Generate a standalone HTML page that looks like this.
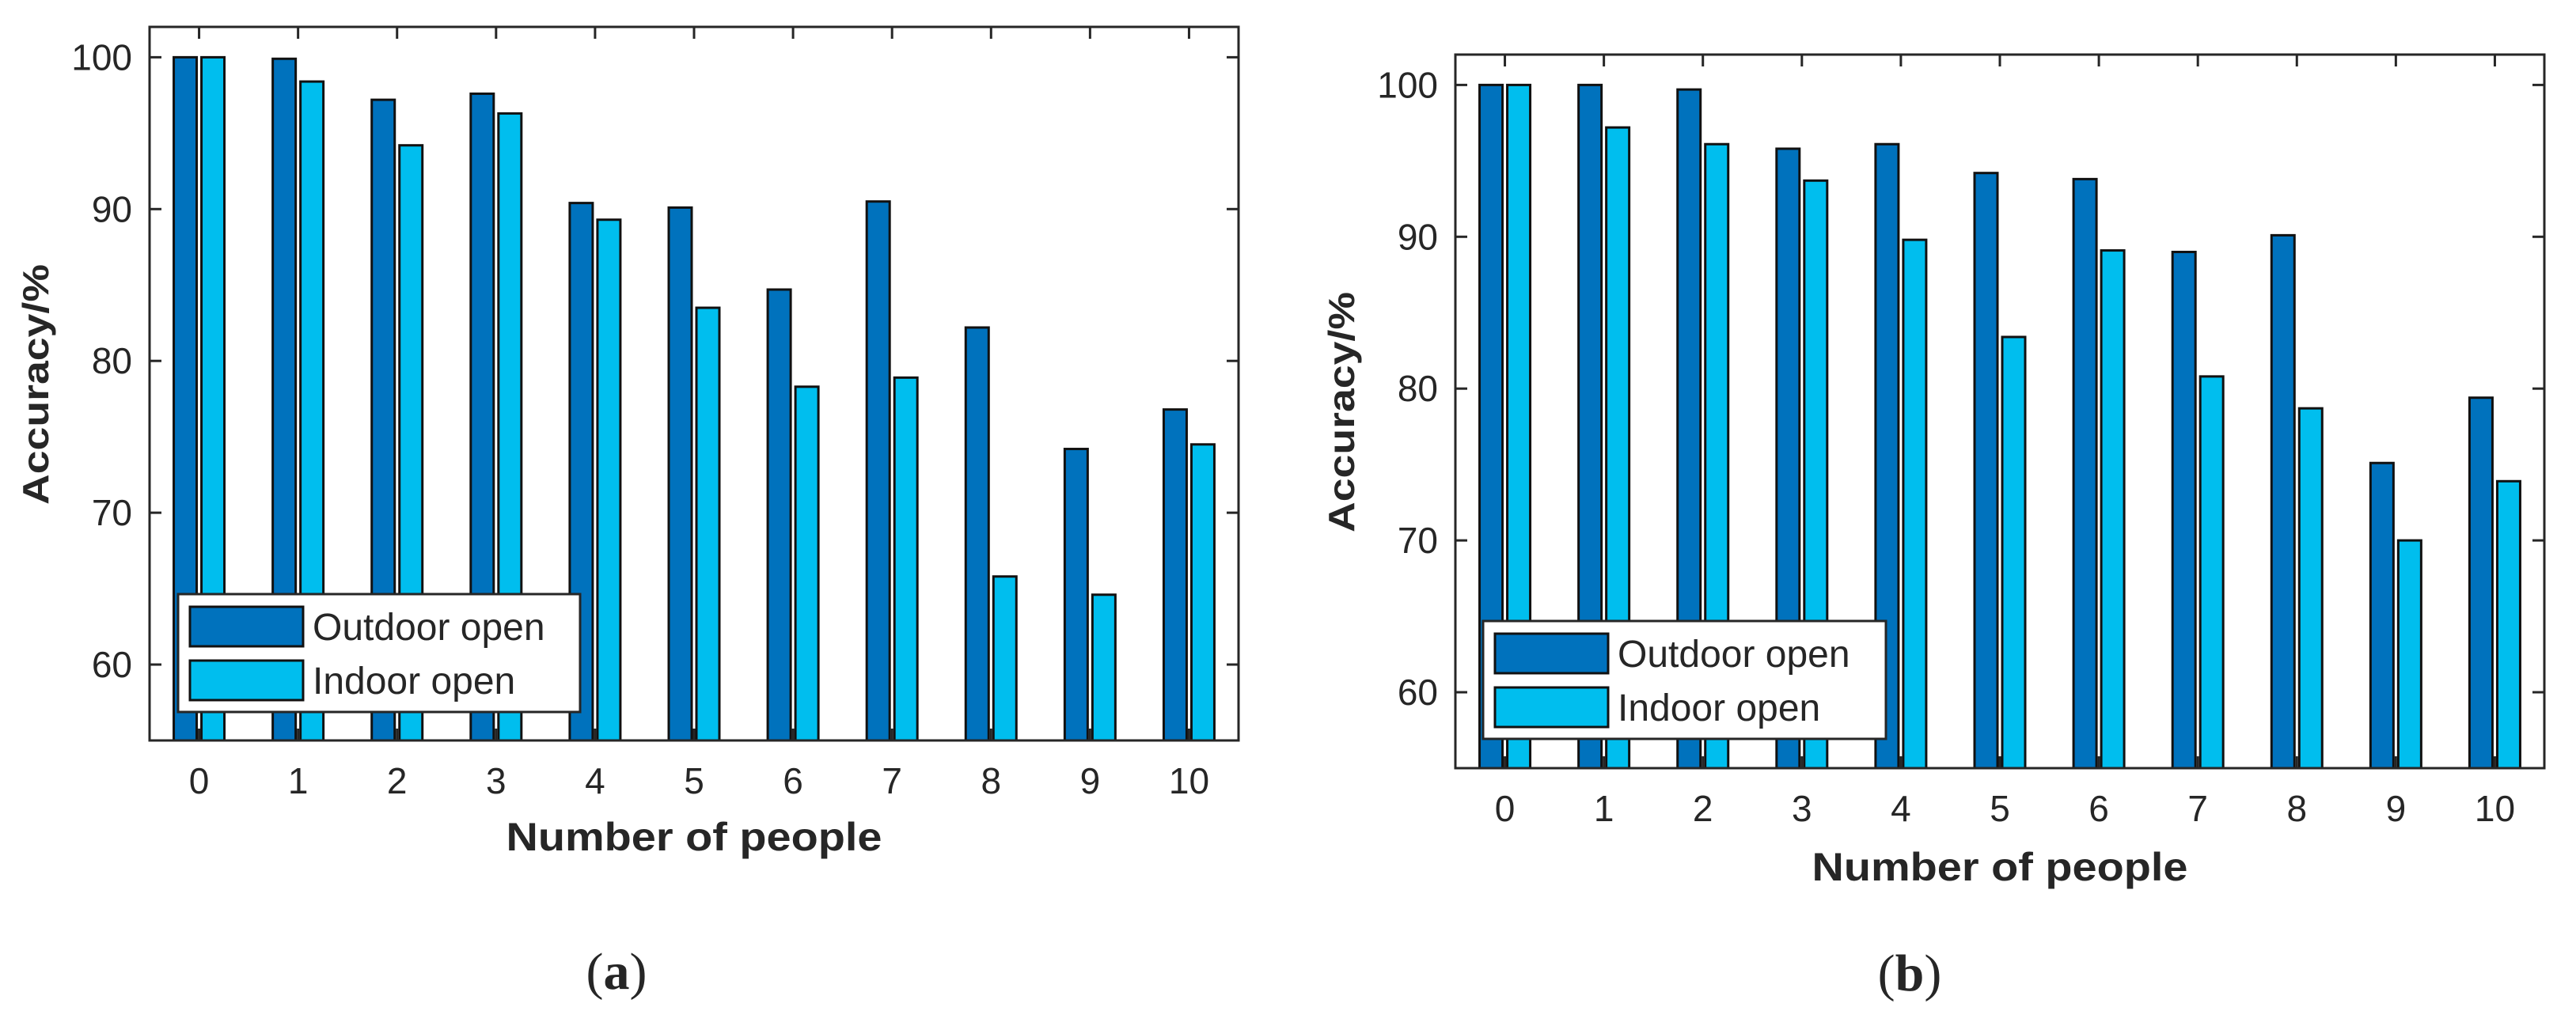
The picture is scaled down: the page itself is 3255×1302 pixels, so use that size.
<!DOCTYPE html>
<html><head><meta charset="utf-8"><style>
html,body{margin:0;padding:0;background:#fff;}
svg{display:block;}
text{fill:#262626;}
</style></head><body>
<svg id="fig" width="3255" height="1302" viewBox="0 0 3255 1302" xmlns="http://www.w3.org/2000/svg"></svg>
<script>
const categories = ['0','1','2','3','4','5','6','7','8','9','10'];
const yTicks = [60,70,80,90,100];
const seriesNames = ['Outdoor open','Indoor open'];
const outdoorA = [100,99.9,97.2,97.6,90.4,90.1,84.7,90.5,82.2,74.2,76.8];
const indoorA  = [100,98.4,94.2,96.3,89.3,83.5,78.3,78.9,65.8,64.6,74.5];
const outdoorB = [100,100,99.7,95.8,96.1,94.2,93.8,89.0,90.1,75.1,79.4];
const indoorB  = [100,97.2,96.1,93.7,89.8,83.4,89.1,80.8,78.7,70.0,73.9];
const yMin = 55, yMax = 102;

const NS='http://www.w3.org/2000/svg';
const svg=document.getElementById('fig');
function mk(tag,attrs,parent){const e=document.createElementNS(NS,tag);for(const k in attrs)e.setAttribute(k,attrs[k]);(parent||svg).appendChild(e);return e;}
const colors=['#0072BD','#00BEEE'];

function chart(p){
  const g=mk('g',{});
  
  
  const xs=v=>p.left+(v+0.5)*(p.right-p.left)/categories.length;
  const ys=v=>p.bottom-(v-yMin)*(p.bottom-p.top)/(yMax-yMin);
  // bars
  [p.s1,p.s2].forEach((arr,si)=>{
    arr.forEach((v,i)=>{
      const c=xs(i);
      const x0= si===0? c-32 : c+3;
      const r=mk('rect',{x:x0,y:ys(v),width:29,height:p.bottom-ys(v),fill:colors[si],stroke:'#111',"stroke-width":3},g);
      
      
    });
  });
  // axes box
  const box=mk('rect',{x:p.left,y:p.top,width:p.right-p.left,height:p.bottom-p.top,fill:'none',stroke:'#262626',"stroke-width":3},g);
  
  
  // x ticks + labels
  categories.forEach((c,i)=>{
    const x=xs(i);
    mk('line',{x1:x,x2:x,y1:p.bottom,y2:p.bottom-15,stroke:'#262626',"stroke-width":3},g);
    mk('line',{x1:x,x2:x,y1:p.top,y2:p.top+15,stroke:'#262626',"stroke-width":3},g);
    const t=mk('text',{x:x,y:p.xTickY+16,"text-anchor":'middle',"font-family":'Liberation Sans, sans-serif',"font-size":46},g);
    t.textContent=c;
    
    
  });
  yTicks.forEach(v=>{
    const y=ys(v);
    mk('line',{x1:p.left,x2:p.left+15,y1:y,y2:y,stroke:'#262626',"stroke-width":3},g);
    mk('line',{x1:p.right,x2:p.right-15,y1:y,y2:y,stroke:'#262626',"stroke-width":3},g);
    const t=mk('text',{x:p.left-22,y:y+16,"text-anchor":'end',"font-family":'Liberation Sans, sans-serif',"font-size":46},g);
    t.textContent=String(v);
    
    
  });
  // y label
  const yl=mk('text',{x:0,y:0,transform:`translate(${p.yLabX+16},${p.yLabY}) rotate(-90)`,"text-anchor":'middle',"font-family":'Liberation Sans, sans-serif',"font-size":46,"font-weight":'bold',textLength:304,lengthAdjust:'spacingAndGlyphs'},g);
  yl.textContent='Accuracy/%';
  
  
  const xl=mk('text',{x:(p.left+p.right)/2,y:p.xLabY+18,"text-anchor":'middle',"font-family":'Liberation Sans, sans-serif',"font-size":50,"font-weight":'bold',textLength:475,lengthAdjust:'spacingAndGlyphs'},g);
  xl.textContent='Number of people';
  
  
  // legend
  const L=p.leg;
  const lg=mk('g',{},g);
  
  
  mk('rect',{x:L.x,y:L.y,width:L.w,height:L.h,fill:'#fff',stroke:'#262626',"stroke-width":3},lg);
  seriesNames.forEach((n,si)=>{
    const ry=L.y+16+si*68;
    mk('rect',{x:L.x+15,y:ry,width:143,height:50,fill:colors[si],stroke:'#111',"stroke-width":3},lg);
    const t=mk('text',{x:L.x+170,y:ry+42,"font-family":'Liberation Sans, sans-serif',"font-size":48,fill:'#111'},lg);
    t.textContent=n;
    
    
  });
  // caption
  const cap=mk('text',{x:p.capX,y:p.capY+22,"text-anchor":'middle',"font-family":'Liberation Serif, serif',"font-size":66},g);
  cap.innerHTML='(<tspan font-weight="bold">'+p.cap+'</tspan>)';
  
  
}

chart({name:'chart-a',left:189,right:1565,top:34,bottom:936,s1:outdoorA,s2:indoorA,xTickY:987,xLabY:1057,yLabX:45,yLabY:486,
  leg:{x:225,y:751,w:508,h:149},capX:779,capY:1228,cap:'a'});
chart({name:'chart-b',left:1839,right:3215,top:69,bottom:971,s1:outdoorB,s2:indoorB,xTickY:1022,xLabY:1095,yLabX:1695,yLabY:521,
  leg:{x:1874,y:785,w:509,h:149},capX:2413,capY:1230,cap:'b'});
</script>
</body></html>
